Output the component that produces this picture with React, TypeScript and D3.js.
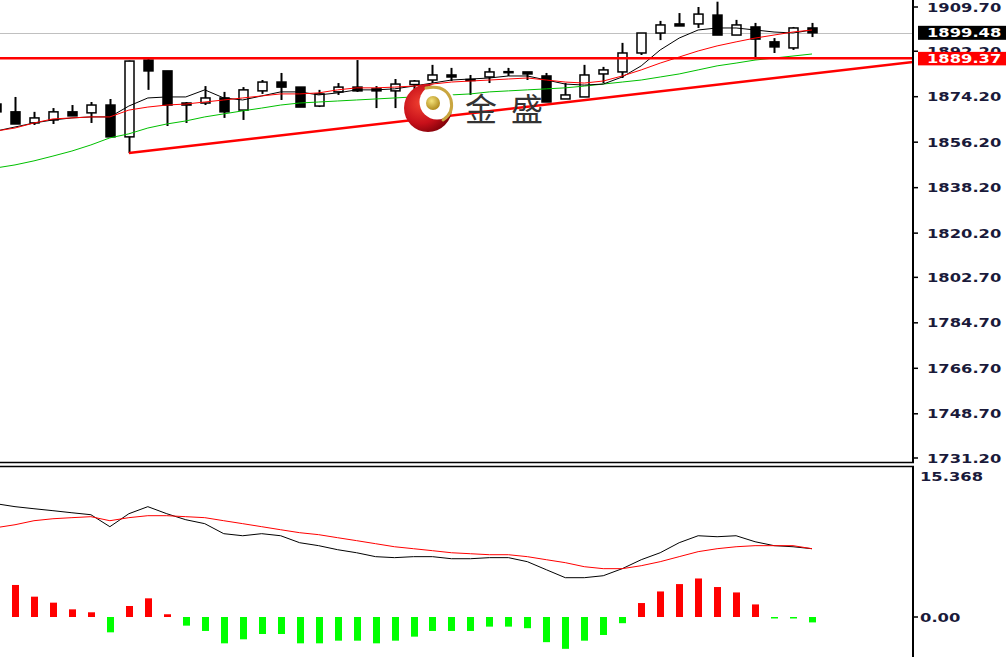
import * as d3 from 'd3';
import * as React from 'react';

// candles, oldest first (index 0 is cut by the left edge)
const opens = [1871.3, 1868.2, 1863.8, 1865.0, 1868.2, 1867.8, 1870.9, 1858.3, 1888.7, 1884.4, 1871.7, 1871.7, 1873.7, 1868.9, 1876.5, 1880.0, 1878.0, 1870.5, 1876.1, 1878.0, 1877.3, 1876.5, 1879.0, 1880.8, 1882.8, 1880.8, 1882.0, 1884.0, 1884.0, 1882.4, 1873.3, 1874.1, 1883.2, 1884.0, 1891.5, 1899.4, 1903.0, 1903.0, 1906.5, 1898.6, 1901.8, 1895.9, 1893.5, 1901.4];
const highs = [1872.9, 1874.1, 1868.2, 1869.7, 1870.9, 1872.1, 1873.3, 1888.5, 1889.1, 1884.4, 1872.1, 1878.4, 1876.1, 1878.0, 1880.8, 1883.6, 1878.0, 1876.9, 1879.6, 1888.7, 1878.4, 1881.2, 1880.8, 1886.8, 1885.6, 1882.8, 1885.6, 1885.6, 1884.0, 1883.6, 1879.6, 1886.8, 1886.0, 1895.5, 1899.4, 1904.2, 1907.3, 1909.7, 1911.8, 1904.6, 1903.4, 1897.4, 1901.8, 1903.4];
const lows = [1867.0, 1863.4, 1863.0, 1863.4, 1866.6, 1863.8, 1858.3, 1851.9, 1876.9, 1862.6, 1863.8, 1870.9, 1865.8, 1865.0, 1875.3, 1872.9, 1870.1, 1870.1, 1874.9, 1876.1, 1869.7, 1869.7, 1876.1, 1879.6, 1880.4, 1874.9, 1879.6, 1882.4, 1880.8, 1872.1, 1873.3, 1874.1, 1879.6, 1881.6, 1890.7, 1896.6, 1902.2, 1901.4, 1898.6, 1898.6, 1889.0, 1891.5, 1892.7, 1897.8];
const closes = [1868.2, 1863.4, 1865.8, 1868.2, 1866.6, 1870.9, 1858.3, 1888.3, 1884.4, 1870.9, 1870.9, 1873.7, 1868.2, 1876.9, 1880.0, 1878.0, 1870.1, 1875.3, 1878.0, 1876.5, 1876.5, 1879.2, 1880.4, 1882.8, 1882.0, 1881.0, 1884.0, 1884.1, 1883.2, 1872.1, 1874.9, 1882.8, 1884.8, 1891.5, 1899.4, 1902.6, 1902.2, 1906.9, 1898.6, 1902.6, 1897.0, 1893.9, 1901.4, 1899.48];

// moving averages
const maFast = [1860.6, 1862.2, 1863.8, 1865.0, 1865.8, 1866.2, 1866.2, 1870.5, 1873.7, 1874.1, 1874.1, 1876.9, 1873.7, 1872.9, 1874.5, 1876.1, 1876.1, 1874.9, 1875.7, 1876.9, 1876.9, 1877.3, 1878.4, 1879.6, 1880.8, 1881.2, 1881.6, 1882.4, 1882.4, 1880.8, 1879.2, 1878.8, 1879.2, 1882.0, 1886.4, 1892.7, 1897.4, 1900.6, 1901.4, 1901.4, 1900.6, 1899.8, 1899.4, 1900.6];
const maMid = [1860.6, 1861.8, 1863.8, 1865.4, 1865.8, 1866.2, 1866.2, 1868.9, 1870.1, 1870.9, 1871.3, 1872.1, 1872.9, 1873.7, 1874.5, 1875.3, 1875.3, 1875.7, 1876.9, 1877.7, 1877.7, 1878.0, 1878.4, 1879.2, 1880.0, 1880.4, 1880.8, 1881.2, 1881.6, 1880.8, 1880.0, 1879.6, 1880.4, 1882.4, 1884.8, 1887.5, 1889.9, 1892.3, 1894.3, 1895.9, 1897.4, 1898.6, 1899.8, 1900.6];
const maSlow = [1846.0, 1847.2, 1848.8, 1850.7, 1852.7, 1855.1, 1857.9, 1859.5, 1861.8, 1863.4, 1864.6, 1866.2, 1867.4, 1868.6, 1869.7, 1870.9, 1871.7, 1872.1, 1872.5, 1872.9, 1873.3, 1873.7, 1874.1, 1874.5, 1874.9, 1875.3, 1876.1, 1876.5, 1876.9, 1877.3, 1877.7, 1878.4, 1879.2, 1880.0, 1880.8, 1882.0, 1883.2, 1884.8, 1886.4, 1887.5, 1888.7, 1889.5, 1890.3, 1891.1];

// MACD pane
const macdMain = [11.53, 11.23, 11.02, 10.82, 10.61, 10.41, 9.19, 10.51, 11.23, 10.51, 9.90, 9.50, 8.48, 8.27, 8.48, 8.27, 7.56, 7.26, 6.85, 6.54, 6.14, 6.04, 6.14, 6.14, 5.93, 5.93, 6.04, 6.04, 5.63, 4.81, 4.00, 4.00, 4.20, 4.92, 5.83, 6.54, 7.56, 8.27, 8.17, 8.27, 7.66, 7.26, 7.15, 6.95];
const macdSignal = [9.09, 9.39, 9.80, 10.00, 10.11, 10.21, 9.80, 10.11, 10.31, 10.31, 10.21, 10.11, 9.80, 9.50, 9.19, 8.88, 8.58, 8.38, 8.07, 7.77, 7.46, 7.15, 6.95, 6.75, 6.54, 6.44, 6.34, 6.34, 6.14, 5.83, 5.53, 5.12, 4.92, 4.92, 5.22, 5.63, 6.14, 6.65, 6.95, 7.15, 7.26, 7.26, 7.26, 6.95];
const macdHist = [4.78, 3.26, 2.07, 1.46, 0.78, 0.48, -1.56, 1.12, 1.90, 0.28, -0.88, -1.42, -2.68, -2.27, -1.73, -1.73, -2.68, -2.68, -2.41, -2.41, -2.68, -2.41, -2.00, -1.42, -1.42, -1.42, -0.98, -0.98, -1.14, -2.56, -3.24, -2.41, -1.83, -0.63, 1.42, 2.60, 3.35, 3.92, 3.05, 2.50, 1.28, -0.10, -0.10, -0.55];

const priceTicks = [1909.7, 1892.2, 1874.2, 1856.2, 1838.2, 1820.2, 1802.7, 1784.7, 1766.7, 1748.7, 1731.2];
const macdTicks = [0];
const macdMax = 15.368;
const lastPrice = 1899.48;
const levelPrice = 1889.37;
// trend line through two anchors [bar index, price], extended to the axis
const trendA = [7, 1851.9];
const trendB = [43, 1883.3];
const logoName = '金盛';

const AXIS_X = 913;
const MAIN_BOTTOM = 463;
const SUB_TOP = 466;
const H = 657;
const W = 1006;

const fmt = d3.format('.2f');
const labelFont = "'DejaVu Sans', Verdana, sans-serif";
const labelLen = (s: string) => s.replace(/[^0-9]/g, '').length * 11.3 + (s.includes('.') ? 6.5 : 0);

function AxisLabel(props: { x: number; y: number; text: string; fill?: string }) {
  return (
    <text x={props.x} y={props.y + 4.6} fontFamily={labelFont} fontSize={13} fontWeight='bold'
      fill={props.fill || '#1a1a3a'} textLength={labelLen(props.text)} lengthAdjust='spacingAndGlyphs'>
      {props.text}
    </text>
  );
}

export default function App() {
  const x = d3.scaleLinear().domain([1, 43]).range([15, 812]);
  const y = d3.scaleLinear().domain([1731.2, 1909.7]).range([458, 7]);
  const ym = d3.scaleLinear().domain([0, macdMax]).range([617, SUB_TOP]);

  const priceLine = (vals: number[]) => d3.line<number>().x((d, i) => x(i)).y(d => y(d))(vals);
  const macdPath = (vals: number[]) => d3.line<number>().x((d, i) => x(i)).y(d => ym(d))(vals);

  // extend trend line to the axis
  const slope = (trendB[1] - trendA[1]) / (trendB[0] - trendA[0]);
  const endIdx = x.invert(AXIS_X);
  const endPrice = trendA[1] + slope * (endIdx - trendA[0]);

  return (
    <svg width={W} height={H} style={{ position: 'fixed', left: 0, top: 0, background: '#fff' }}>
      <defs>
        <clipPath id='mainClip'><rect x={0} y={0} width={AXIS_X} height={MAIN_BOTTOM} /></clipPath>
        <clipPath id='subClip'><rect x={0} y={SUB_TOP} width={AXIS_X} height={H - SUB_TOP} /></clipPath>
        <radialGradient id='moon' cx='35%' cy='40%' r='70%'>
          <stop offset='0%' stopColor='#f04030' />
          <stop offset='60%' stopColor='#c8101a' />
          <stop offset='100%' stopColor='#7a0008' />
        </radialGradient>
        <radialGradient id='ball' cx='40%' cy='35%' r='65%'>
          <stop offset='0%' stopColor='#f4e27a' />
          <stop offset='100%' stopColor='#b08a1c' />
        </radialGradient>
      </defs>
      <rect x={0} y={0} width={W} height={H} fill='#fff' />

      <g clipPath='url(#mainClip)'>
        <line x1={0} x2={AXIS_X} y1={Math.round(y(lastPrice)) + 0.5} y2={Math.round(y(lastPrice)) + 0.5} stroke='#c0c0c0' />

        {opens.map((o, i) => {
          const c = closes[i];
          const cx = Math.round(x(i)) + 0.5;
          const top = y(Math.max(o, c));
          const bot = y(Math.min(o, c));
          return (
            <g key={i}>
              <line x1={cx} x2={cx} y1={y(highs[i])} y2={y(lows[i])} stroke='#000' strokeWidth={2} />
              <rect x={cx - 4.5} y={top} width={9} height={Math.max(bot - top, 1)}
                fill={c >= o ? '#fff' : '#000'} stroke='#000' strokeWidth={1.5} />
            </g>
          );
        })}

        <path d={priceLine(maSlow)} fill='none' stroke='#00c000' strokeWidth={1} />
        <path d={priceLine(maFast)} fill='none' stroke='#000' strokeWidth={1} />
        <path d={priceLine(maMid)} fill='none' stroke='#ff0000' strokeWidth={1} />

        <line x1={0} x2={AXIS_X} y1={y(levelPrice)} y2={y(levelPrice)} stroke='#ff0000' strokeWidth={2.5} />
        <line x1={x(trendA[0])} y1={y(trendA[1])} x2={AXIS_X} y2={y(endPrice)} stroke='#ff0000' strokeWidth={2.5} />

        {/* watermark */}
        <g>
          <circle cx={428} cy={108} r={24} fill='url(#moon)' />
          <circle cx={437} cy={102} r={17.5} fill='#fff' />
          <circle cx={433} cy={103} r={7} fill='url(#ball)' />
          <path d='M 426 88 Q 446 84 451 100 Q 454 113 443 120' fill='none' stroke='#c9a640' strokeWidth={3} strokeLinecap='round' />
          <text x={465} y={121} fontFamily="'Noto Sans CJK SC', sans-serif" fontSize={32}
            fill='#333' letterSpacing={14}>{logoName}</text>
        </g>
      </g>

      <g clipPath='url(#subClip)'>
        {macdHist.map((v, i) => {
          const cx = Math.round(x(i));
          const y0 = ym(0);
          const y1 = ym(v);
          return (
            <rect key={i} x={cx - 3} y={Math.min(y0, y1)} width={7} height={Math.max(Math.abs(y1 - y0), 1.5)}
              fill={v >= 0 ? '#ff0000' : '#00ff00'} />
          );
        })}
        <path d={macdPath(macdMain)} fill='none' stroke='#000' strokeWidth={1} />
        <path d={macdPath(macdSignal)} fill='none' stroke='#ff0000' strokeWidth={1} />
      </g>

      {/* pane frames and axis */}
      <line x1={0} x2={AXIS_X + 1} y1={MAIN_BOTTOM - 0.5} y2={MAIN_BOTTOM - 0.5} stroke='#000' strokeWidth={1.5} />
      <line x1={0} x2={AXIS_X + 1} y1={SUB_TOP + 0.5} y2={SUB_TOP + 0.5} stroke='#000' strokeWidth={1.5} />
      <line x1={AXIS_X} x2={AXIS_X} y1={0} y2={MAIN_BOTTOM} stroke='#000' strokeWidth={2} />
      <line x1={AXIS_X} x2={AXIS_X} y1={SUB_TOP} y2={H} stroke='#000' strokeWidth={2} />

      {priceTicks.map(t => (
        <g key={t}>
          <line x1={AXIS_X} x2={AXIS_X + 5} y1={y(t)} y2={y(t)} stroke='#000' strokeWidth={1.5} />
          <AxisLabel x={927} y={y(t)} text={fmt(t)} />
        </g>
      ))}

      {macdTicks.map(t => (
        <g key={t}>
          <line x1={AXIS_X} x2={AXIS_X + 5} y1={ym(t)} y2={ym(t)} stroke='#000' strokeWidth={1.5} />
          <AxisLabel x={920} y={ym(t)} text={fmt(t)} />
        </g>
      ))}
      <AxisLabel x={920} y={476} text={String(macdMax)} />

      {/* current price markers */}
      <rect x={918} y={y(lastPrice) - 7} width={W - 918} height={14} fill='#000' />
      <AxisLabel x={927} y={y(lastPrice)} text={fmt(lastPrice)} fill='#fff' />
      <rect x={918} y={y(levelPrice) - 6.5} width={W - 918} height={13.5} fill='#ff0000' />
      <AxisLabel x={927} y={y(levelPrice)} text={fmt(levelPrice)} fill='#fff' />
    </svg>
  );
}
